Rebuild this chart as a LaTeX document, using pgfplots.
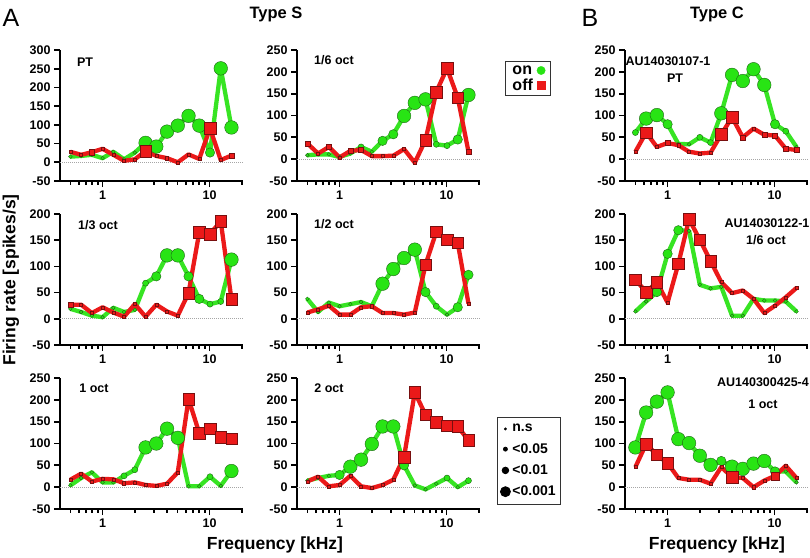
\documentclass[border=0pt]{standalone}
\usepackage{fontspec}
\setmainfont{Liberation Sans}
\usepackage{pgfplots}
\usepackage{pgfplotstable}
\pgfplotsset{compat=1.18}
\definecolor{gcol}{RGB}{40,228,20}
\definecolor{gline}{RGB}{55,228,35}
\definecolor{gdark}{RGB}{30,100,20}
\definecolor{rcol}{RGB}{235,25,25}
\definecolor{rdark}{RGB}{120,15,15}

% sizes: n.s=1.5, <0.05=2.6, <0.01=4.2, <0.001=6.2
\pgfplotstableread{
f g gs r rs
0.5 15 1.5 28 1.5
0.63 17 1.5 20 1.5
0.794 20 1.5 27 2.6
1 11 1.5 36 1.5
1.26 28 1.5 20 1.5
1.587 8 1.5 4 1.5
2 26 1.5 8 1.5
2.52 52 6.2 30 6.2
3.175 42 6.2 17 1.5
4 82 6.2 11 1.5
5.04 98 6.2 0 1.5
6.35 124 6.2 21 1.5
8 98 6.2 9 1.5
10.08 26 4.2 91 6.2
12.7 251 6.2 6 1.5
16 93 6.2 18 2.6
}\tAone

\pgfplotstableread{
f g gs r rs
0.5 9 1.5 36 2.6
0.63 11 1.5 13 1.5
0.794 11 1.5 28 2.6
1 5 1.5 4 1.5
1.26 13 1.5 19 2.6
1.587 28 2.6 21 2.6
2 17 1.5 7 1.5
2.52 42 4.2 7 1.5
3.175 57 4.2 8 1.5
4 99 6.2 23 1.5
5.04 129 6.2 -8 1.5
6.35 137 6.2 44 6.2
8 34 2.6 154 6.2
10.08 31 2.6 208 6.2
12.7 45 4.2 141 6.2
16 147 6.2 17 2.6
}\tAtwo

\pgfplotstableread{
f g gs r rs
0.5 61 2.6 17 1.5
0.63 93 6.2 61 6.2
0.794 101 6.2 28 1.5
1 80 4.2 37 2.6
1.26 35 1.5 32 1.5
1.587 34 1.5 17 1.5
2 50 2.6 13 1.5
2.52 38 2.6 15 1.5
3.175 105 6.2 57 6.2
4 193 6.2 96 6.2
5.04 179 6.2 50 2.6
6.35 206 6.2 70 1.5
8 170 6.2 56 2.6
10.08 80 4.2 54 2.6
12.7 64 2.6 24 2.6
16 28 1.5 21 2.6
}\tBone

\pgfplotstableread{
f g gs r rs
0.5 19 1.5 27 2.6
0.63 13 1.5 27 1.5
0.794 6 1.5 11 1.5
1 3 1.5 22 1.5
1.26 21 1.5 12 1.5
1.587 13 1.5 4 1.5
2 17 1.5 28 1.5
2.52 68 2.6 4 1.5
3.175 81 4.2 27 1.5
4 121 6.2 14 1.5
5.04 121 6.2 6 1.5
6.35 81 4.2 49 6.2
8 38 4.2 165 6.2
10.08 28 2.6 162 6.2
12.7 33 2.6 186 6.2
16 113 6.2 37 6.2
}\tAthree

\pgfplotstableread{
f g gs r rs
0.5 38 1.5 12 1.5
0.63 13 1.5 18 1.5
0.794 31 1.5 25 1.5
1 24 1.5 8 1.5
1.26 28 1.5 8 1.5
1.587 32 1.5 22 1.5
2 24 1.5 24 1.5
2.52 67 6.2 11 1.5
3.175 95 6.2 11 1.5
4 116 6.2 8 1.5
5.04 132 6.2 12 1.5
6.35 51 4.2 103 6.2
8 24 2.6 166 6.2
10.08 8 1.5 151 6.2
12.7 22 4.2 145 6.2
16 84 4.2 29 1.5
}\tAfour

\pgfplotstableread{
f g gs r rs
0.5 14 1.5 75 6.2
0.63 33 1.5 51 6.2
0.794 51 4.2 70 6.2
1 124 4.2 31 1.5
1.26 169 4.2 105 6.2
1.587 168 1.5 190 6.2
2 65 1.5 151 6.2
2.52 58 1.5 110 6.2
3.175 61 1.5 70 1.5
4 6 1.5 49 1.5
5.04 6 1.5 54 1.5
6.35 38 1.5 38 1.5
8 35 1.5 11 1.5
10.08 35 1.5 25 1.5
12.7 33 1.5 41 1.5
16 14 1.5 59 1.5
}\tBtwo

\pgfplotstableread{
f g gs r rs
0.5 4 1.5 17 1.5
0.63 21 1.5 31 1.5
0.794 34 1.5 13 1.5
1 11 1.5 19 1.5
1.26 11 1.5 18 1.5
1.587 26 2.6 9 1.5
2 40 2.6 11 1.5
2.52 91 6.2 5 1.5
3.175 100 6.2 3 1.5
4 134 6.2 8 1.5
5.04 113 6.2 34 1.5
6.35 2 1.5 202 6.2
8 2 1.5 124 6.2
10.08 24 2.6 134 6.2
12.7 3 1.5 115 6.2
16 37 6.2 111 6.2
}\tAfive

\pgfplotstableread{
f g gs r rs
0.5 15 1.5 13 1.5
0.63 21 1.5 24 1.5
0.794 26 1.5 2 1.5
1 28 4.2 5 1.5
1.26 47 6.2 26 1.5
1.587 63 6.2 2 1.5
2 99 6.2 -2 1.5
2.52 139 6.2 5 1.5
3.175 139 6.2 17 1.5
4 50 4.2 69 6.2
5.04 4 1.5 217 6.2
6.35 -5 1.5 166 6.2
8 8 1.5 149 6.2
10.08 21 2.6 141 6.2
12.7 0 1.5 139 6.2
16 15 2.6 107 6.2
}\tAsix

\pgfplotstableread{
f g gs r rs
0.5 91 6.2 46 1.5
0.63 171 6.2 99 6.2
0.794 196 6.2 74 6.2
1 217 6.2 55 6.2
1.26 110 6.2 21 1.5
1.587 101 6.2 17 1.5
2 72 6.2 17 1.5
2.52 51 6.2 8 1.5
3.175 60 4.2 46 1.5
4 47 6.2 23 6.2
5.04 42 6.2 21 1.5
6.35 54 6.2 0 1.5
8 60 6.2 15 1.5
10.08 36 4.2 26 4.2
12.7 36 1.5 49 1.5
16 11 1.5 21 1.5
}\tBthree

\pgfplotsset{
  myax/.style={
    xmin=0.4, xmax=20.5,
    scale only axis, width=183pt, height=131pt, anchor=south west,
    ymin=-50,
    axis lines*=left,
    axis line style={line width=2.4pt, black},
    every tick/.style={black, line width=1.7pt},
    tick align=outside,
    major tick length=6pt, minor tick length=3.5pt,
    xtick={1,10}, xticklabels={1,10},
    minor xtick={0.5,0.6,0.7,0.8,0.9,2,3,4,5,6,7,8,9,20},
    tick label style={font=\bfseries\fontsize{12.5}{12.5}\selectfont},
    /pgf/number format/assume math mode=true,
    clip=false,
  },
}

\newcommand{\curves}[1]{%
  \addplot[forget plot, gray!70, densely dotted, line width=1pt] coordinates {(0.4,0) (20.5,0)};
  \addplot[forget plot, gline, line width=4.3pt, line join=round] table[x=f,y=g]{#1};
  \addplot[forget plot, scatter, only marks, mark=*,
     scatter/use mapped color={draw=gdark, fill=gcol},
     visualization depends on={\thisrow{gs} \as \msize},
     scatter/@pre marker code/.append style={/tikz/mark size=1.05*\msize+0.3, /tikz/line width=0.5pt}] table[x=f,y=g]{#1};
  \addplot[forget plot, rcol, line width=4.3pt, line join=round] table[x=f,y=r]{#1};
  \addplot[forget plot, scatter, only marks, mark=square*,
     scatter/use mapped color={draw=rdark, fill=rcol},
     visualization depends on={\thisrow{rs} \as \msize},
     scatter/@pre marker code/.append style={/tikz/mark size=0.9*\msize+0.2, /tikz/line width=0.5pt}] table[x=f,y=r]{#1};
}

\begin{document}
\begin{tikzpicture}
% Row 1
\begin{semilogxaxis}[myax, at={(60pt,-181pt)}, ymax=300, ytick={-50,0,...,300}]
\curves{\tAone}
\end{semilogxaxis}
\begin{semilogxaxis}[myax, at={(297pt,-181pt)}, ymax=250, ytick={-50,0,...,250},
  legend plot pos=right, legend cell align=left,
  legend style={at={(1.137,0.916)}, anchor=north west, draw=black!80, line width=0.8pt,
    font=\bfseries\fontsize{16}{16}\selectfont, inner xsep=5pt, inner ysep=2pt, row sep=-1pt, column sep=2pt}]
\addlegendimage{only marks, mark=*, mark size=4.2pt, draw=gcol, fill=gcol, mark options={line width=0.3pt}}
\addlegendentry{on}
\addlegendimage{only marks, mark=square*, mark size=3.6pt, draw=rcol, fill=rcol, mark options={line width=0.3pt}}
\addlegendentry{off}
\curves{\tAtwo}
\end{semilogxaxis}
\begin{semilogxaxis}[myax, at={(625pt,-181pt)}, ymax=250, ytick={-50,0,...,250}]
\curves{\tBone}
\end{semilogxaxis}
% Row 2
\begin{semilogxaxis}[myax, at={(60pt,-345pt)}, ymax=200, ytick={-50,0,...,200}]
\curves{\tAthree}
\end{semilogxaxis}
\begin{semilogxaxis}[myax, at={(297pt,-345pt)}, ymax=200, ytick={-50,0,...,200}]
\curves{\tAfour}
\end{semilogxaxis}
\begin{semilogxaxis}[myax, at={(625pt,-345pt)}, ymax=200, ytick={-50,0,...,200}]
\curves{\tBtwo}
\end{semilogxaxis}
% Row 3
\begin{semilogxaxis}[myax, at={(60pt,-509pt)}, ymax=250, ytick={-50,0,...,250}]
\curves{\tAfive}
\end{semilogxaxis}
\begin{semilogxaxis}[myax, at={(297pt,-509pt)}, ymax=250, ytick={-50,0,...,250},
  legend cell align=left,
  legend style={at={(1.093,0.702)}, anchor=north west, draw=black!80, line width=0.8pt,
    font=\bfseries\fontsize{14}{14}\selectfont, inner xsep=3pt, inner ysep=5pt, row sep=6pt, column sep=0pt}]
\addlegendimage{only marks, mark=*, black, mark size=1pt}
\addlegendentry{n.s}
\addlegendimage{only marks, mark=*, black, mark size=2pt}
\addlegendentry{<0.05}
\addlegendimage{only marks, mark=*, black, mark size=3.3pt}
\addlegendentry{<0.01}
\addlegendimage{only marks, mark=*, black, mark size=5pt}
\addlegendentry{<0.001}
\curves{\tAsix}
\end{semilogxaxis}
\begin{semilogxaxis}[myax, at={(625pt,-509pt)}, ymax=250, ytick={-50,0,...,250}]
\curves{\tBthree}
\end{semilogxaxis}

% Titles and labels
\node[font=\fontsize{25}{25}\selectfont] at (11pt,-18pt) {A};
\node[font=\fontsize{25}{25}\selectfont] at (590pt,-18pt) {B};
\node[font=\bfseries\fontsize{16.5}{16.5}\selectfont] at (276pt,-14pt) {Type S};
\node[font=\bfseries\fontsize{16.5}{16.5}\selectfont] at (717pt,-14pt) {Type C};
\node[font=\bfseries\fontsize{17.5}{17.5}\selectfont, rotate=90] at (11pt,-280pt) {Firing rate [spikes/s]};
\node[font=\bfseries\fontsize{17.5}{17.5}\selectfont] at (275pt,-545pt) {Frequency [kHz]};
\node[font=\bfseries\fontsize{17.5}{17.5}\selectfont] at (717pt,-545pt) {Frequency [kHz]};

\begin{scope}[every node/.style={font=\bfseries\fontsize{12.5}{12.5}\selectfont}]
\node at (85pt,-62pt) {PT};
\node at (334pt,-60pt) {1/6 oct};
\node at (668pt,-61pt) {AU14030107-1};
\node at (675pt,-78pt) {PT};
\node at (98pt,-225pt) {1/3 oct};
\node at (334pt,-224pt) {1/2 oct};
\node at (767pt,-223pt) {AU14030122-1};
\node at (766pt,-240pt) {1/6 oct};
\node at (94pt,-388pt) {1 oct};
\node at (329pt,-388pt) {2 oct};
\node at (763pt,-382pt) {AU140300425-4};
\node at (763pt,-404pt) {1 oct};
\end{scope}

\pgfresetboundingbox
\path (0,0) rectangle (810pt,-557pt);
\end{tikzpicture}
\end{document}
